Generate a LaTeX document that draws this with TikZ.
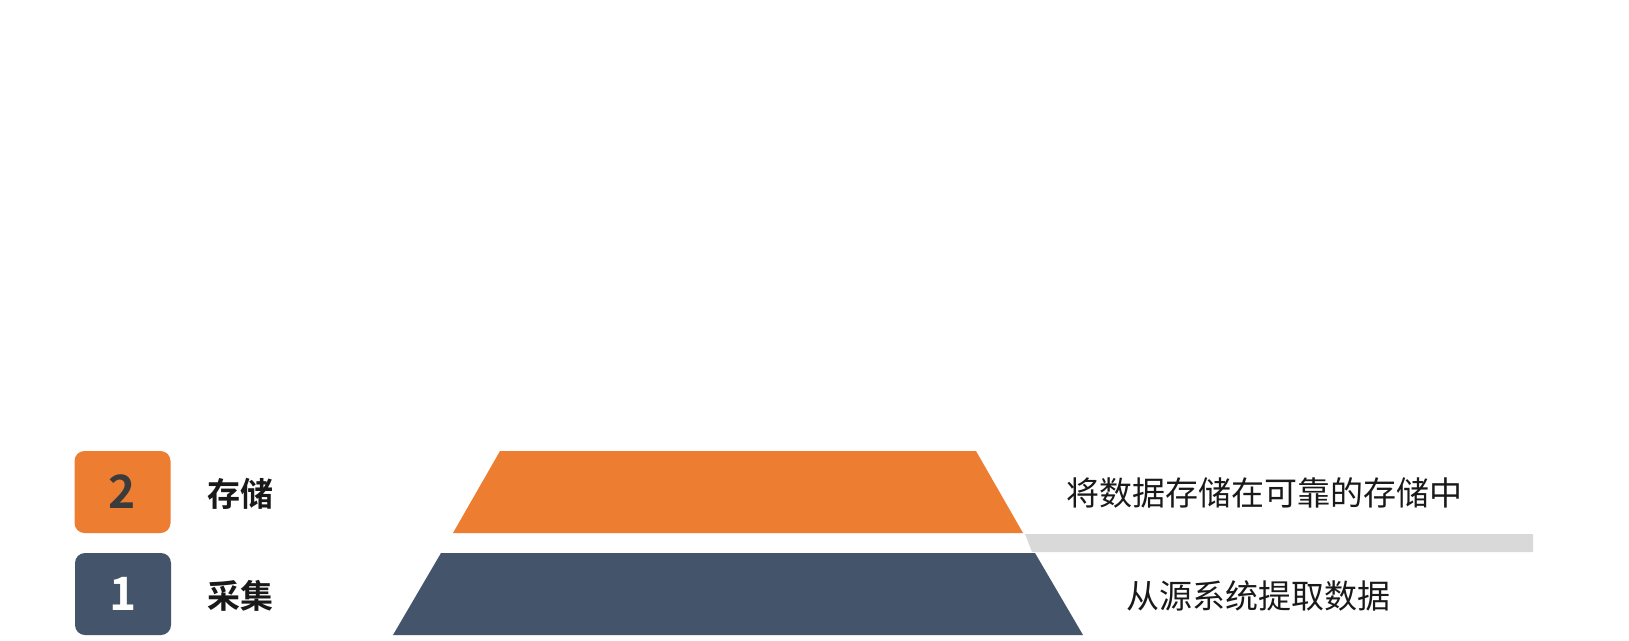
\documentclass[tikz,border=0pt]{standalone}
\usepackage{fontspec}
\newfontfamily\cjk{Noto Sans CJK SC}[BoldFont={Noto Sans CJK SC Bold}]
\definecolor{orangeA}{HTML}{ED7D31}
\definecolor{navyA}{HTML}{44546A}
\definecolor{barA}{HTML}{D9D9D9}
\definecolor{digitA}{HTML}{3B3B3B}
\tikzset{
  badge/.style={rounded corners=10pt, minimum width=96pt, minimum height=82pt, inner sep=0pt, font=\cjk\bfseries\fontsize{46}{50}\selectfont},
  lbl/.style={inner sep=0pt, font=\cjk\bfseries\fontsize{33}{36}\selectfont, text=black!90},
  desc/.style={inner sep=0pt, font=\cjk\fontsize{33}{36}\selectfont, text=black!90},
}
\begin{document}
\begin{tikzpicture}[x=1pt,y=-1pt]
\useasboundingbox (0,0) rectangle (1629,640);
\fill[white] (0,0) rectangle (1629,640);
% badges
\node[badge, fill=orangeA, text=digitA] (b2) at (122.5,492) {2};
\node[badge, fill=navyA, text=white] (b1) at (123,594) {1};
\node[lbl, anchor=west] (l2) at (207,494) {存储};
\node[lbl, anchor=west] (l1) at (207,596) {采集};
% trapezoids
\fill[orangeA] (500,451) -- (976,451) -- (1023,533) -- (453,533) -- cycle;
\fill[navyA] (441,553) -- (1035,553) -- (1083,635) -- (393,635) -- cycle;
% grey bar
\fill[barA] (1025,534) -- (1533,534) -- (1533,552) -- (1032,552) -- cycle;
% descriptions
\node[desc] (d2) at (1264,493) {将数据存储在可靠的存储中};
\node[desc] (d1) at (1258,596) {从源系统提取数据};
\end{tikzpicture}
\end{document}
